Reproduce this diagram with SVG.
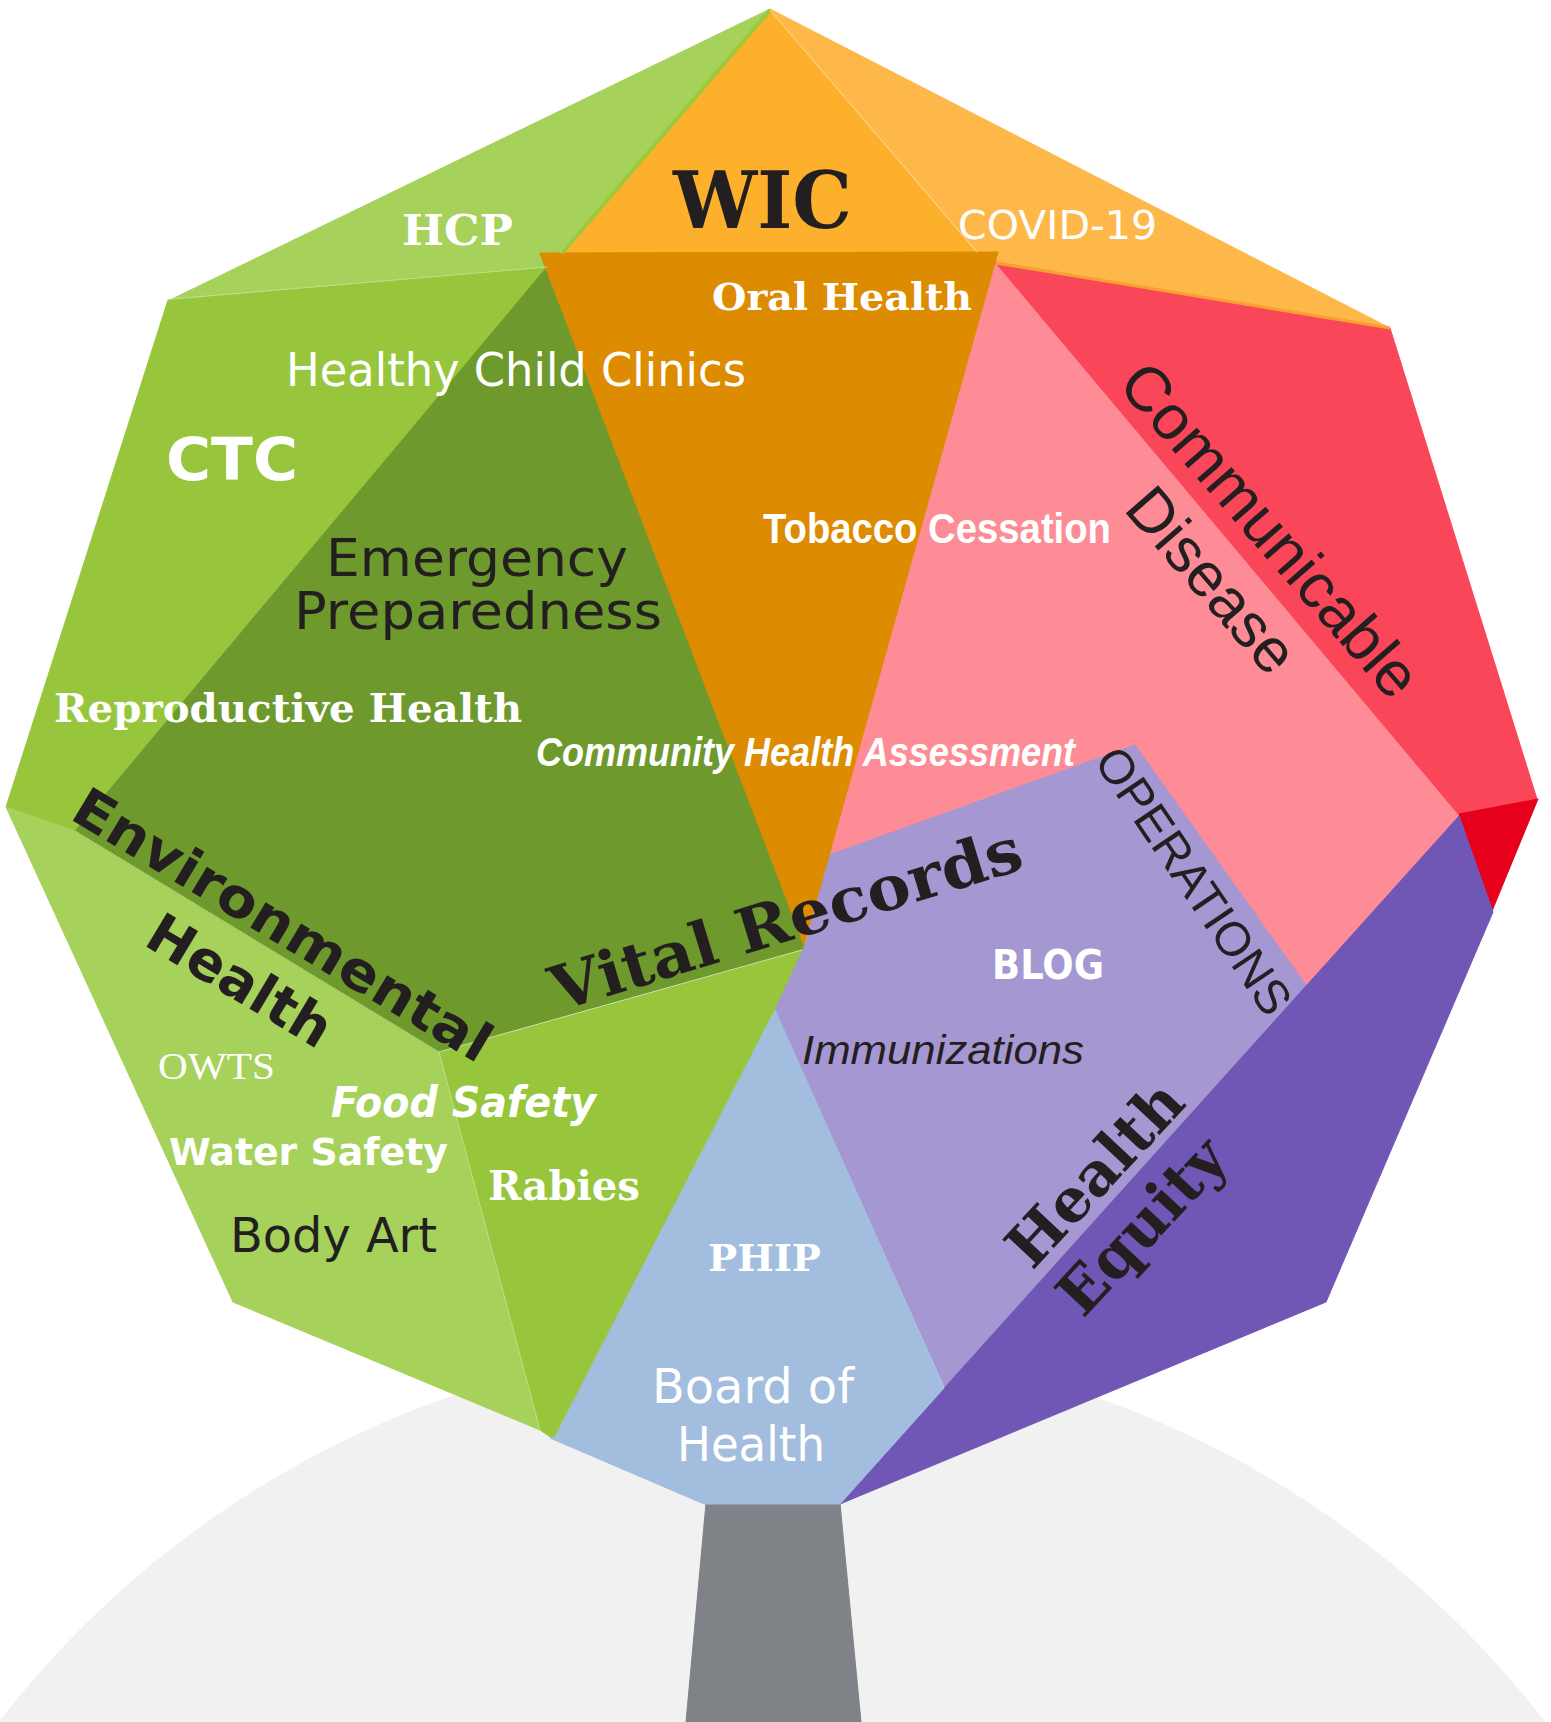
<svg xmlns="http://www.w3.org/2000/svg" width="1551" height="1722" viewBox="0 0 1551 1722">
<style>
.w{fill:#FFFFFF}
.k{fill:#231F20}
.sans{font-family:"DejaVu Sans","Liberation Sans",sans-serif}
.sansb{font-family:"DejaVu Sans","Liberation Sans",sans-serif;font-weight:bold}
.serifb{font-family:"DejaVu Serif","Liberation Serif",serif;font-weight:bold}
.arial{font-family:"Liberation Sans",Arial,sans-serif}
.times{font-family:"Liberation Serif","Times New Roman",serif}
polygon{stroke-width:1;stroke-linejoin:round}
</style>
<rect width="1551" height="1722" fill="#FFFFFF"/>
<circle id="ground" cx="772" cy="2319" r="977" fill="#F1F1F1"/>
<polygon id="trunk" points="706,1503 840,1503 861,1722 686,1722" fill="#7F8387" stroke="#7F8387"/>

<g id="hcp">
<polygon points="770,9 172,299 547,267" fill="#A6D15A" stroke="#A6D15A"/>
<text class="serifb w" x="402" y="245" font-size="42" textLength="111" lengthAdjust="spacingAndGlyphs">HCP</text>
</g>
<g id="ctc">
<polygon points="168,300 547,267 75,831 6,807" fill="#97C63D" stroke="#97C63D"/>
<text class="sansb w" x="166" y="480" font-size="58" textLength="132" lengthAdjust="spacingAndGlyphs">CTC</text>
</g>
<g id="env-health">
<polygon points="6,807 75,831 439,1052 540,1430 233,1302" fill="#A6D15A" stroke="#A6D15A"/>
<text class="times w" x="158" y="1079" font-size="38" textLength="117" lengthAdjust="spacingAndGlyphs">OWTS</text>
<text class="sansb w" x="169" y="1165" font-size="37" textLength="279" lengthAdjust="spacingAndGlyphs">Water Safety</text>
<text class="sans k" x="230" y="1252" font-size="48" textLength="207" lengthAdjust="spacingAndGlyphs">Body Art</text>
</g>
<g id="food">
<polygon points="439,1052 802,950 830,960 620,1440 555,1440 540,1430" fill="#97C63D" stroke="#97C63D"/>
<text class="serifb w" x="488" y="1200" font-size="41" textLength="152" lengthAdjust="spacingAndGlyphs">Rabies</text>
</g>
<g id="emergency">
<polygon points="547,267 75,831 439,1052 802,950 805,945 540,253" fill="#6E992D" stroke="#6E992D"/>
<text class="sans k" x="477" y="576" font-size="52" text-anchor="middle" textLength="302" lengthAdjust="spacingAndGlyphs">Emergency</text>
<text class="sans k" x="478" y="629" font-size="52" text-anchor="middle" textLength="368" lengthAdjust="spacingAndGlyphs">Preparedness</text>
</g>
<g id="wic">
<polygon points="770,9 562,253 977,253" fill="#FDB02B" stroke="#FDB02B"/>
<text class="serifb k" x="673" y="228" font-size="78" textLength="179" lengthAdjust="spacingAndGlyphs">WIC</text>
</g>
<g id="covid">
<polygon points="770,9 1390,328 995,263 998,252 977,252" fill="#FEB84A" stroke="#FEB84A"/>
<text class="sans w" x="958" y="239" font-size="39" textLength="199" lengthAdjust="spacingAndGlyphs">COVID-19</text>
</g>
<g id="disease">
<polygon points="995,262 1462,818 1306,990 1135,745 829,855" fill="#FD8C96" stroke="#FD8C96"/>
</g>
<g id="communicable">
<polygon points="995,262 1390,328 1537,799 1459,815" fill="#FA4659" stroke="#FA4659"/>
<polygon points="1459,814 1538,799 1492,911" fill="#E7001C" stroke="#E7001C"/>
</g>
<g id="operations">
<polygon points="829,855 1135,745 1308,988 946,1390 775,1010 802,952 805,945" fill="#A597D1" stroke="#A597D1"/>
<text class="sansb w" x="992" y="979" font-size="40" textLength="112" lengthAdjust="spacingAndGlyphs">BLOG</text>
<text class="arial k" x="802" y="1064" font-size="40" font-style="italic" textLength="282" lengthAdjust="spacingAndGlyphs">Immunizations</text>
</g>
<g id="health-equity">
<polygon points="1459,816 1493,912 1326,1302 840,1504" fill="#7157B5" stroke="#7157B5"/>
</g>
<g id="board">
<polygon points="775,1010 944,1388 840,1504 704,1504 550,1438 555,1437" fill="#A3BDDE" stroke="#A3BDDE"/>
<text class="serifb w" x="708" y="1271" font-size="37" textLength="113" lengthAdjust="spacingAndGlyphs">PHIP</text>
<text class="sans w" x="753" y="1403" font-size="48" text-anchor="middle" textLength="202" lengthAdjust="spacingAndGlyphs">Board of</text>
<text class="sans w" x="751" y="1461" font-size="48" text-anchor="middle" textLength="148" lengthAdjust="spacingAndGlyphs">Health</text>
</g>
<g id="oral">
<polygon points="540,253 998,252 804,945" fill="#DD8B00" stroke="#DD8B00"/>
<text class="serifb w" x="712" y="310" font-size="38" textLength="260" lengthAdjust="spacingAndGlyphs">Oral Health</text>
</g>

<g id="connectors" fill="none">
<line x1="770" y1="10" x2="562" y2="253" stroke="#9CC83C" stroke-width="4"/>
<line x1="770" y1="10" x2="977" y2="252" stroke="#FFD9A0" stroke-width="1"/>
<line x1="996" y1="263" x2="1390" y2="328" stroke="#F7A12E" stroke-width="3"/>
<line x1="172" y1="299" x2="547" y2="267" stroke="#C3E08F" stroke-width="1"/>
<line x1="75" y1="831" x2="439" y2="1052" stroke="#B5D97A" stroke-width="1"/>
<line x1="439" y1="1052" x2="802" y2="950" stroke="#D5E8B0" stroke-width="1"/>
<line x1="439" y1="1052" x2="540" y2="1430" stroke="#C3E08F" stroke-width="1"/>
</g>

<g id="labels">
<text class="sans w" x="286" y="386" font-size="46" textLength="460" lengthAdjust="spacingAndGlyphs">Healthy Child Clinics</text>
<text class="arial w" x="763" y="543" font-size="43" font-weight="bold" textLength="348" lengthAdjust="spacingAndGlyphs">Tobacco Cessation</text>
<text class="serifb w" x="54" y="722" font-size="40" textLength="468" lengthAdjust="spacingAndGlyphs">Reproductive Health</text>
<text class="arial w" x="536" y="766" font-size="40" font-weight="bold" font-style="italic" textLength="539" lengthAdjust="spacingAndGlyphs">Community Health Assessment</text>
<text class="sansb w" x="331" y="1117" font-size="43" font-style="italic" textLength="265" lengthAdjust="spacingAndGlyphs">Food Safety</text>
<text class="arial k" font-size="63" text-anchor="middle" transform="translate(1254,544) rotate(49)">Communicable</text>
<text class="arial k" font-size="62" text-anchor="middle" transform="translate(1196,594) rotate(49)">Disease</text>
<text class="arial k" font-size="48" text-anchor="middle" transform="translate(1180,890) rotate(56)">OPERATIONS</text>
<text class="serifb k" font-size="62" text-anchor="middle" textLength="490" lengthAdjust="spacingAndGlyphs" transform="translate(792,940) rotate(-17)">Vital Records</text>
<text class="sansb k" font-size="54" text-anchor="middle" textLength="478" lengthAdjust="spacingAndGlyphs" transform="translate(273,941) rotate(31)">Environmental</text>
<text class="sansb k" font-size="55" text-anchor="middle" transform="translate(230,997) rotate(31)">Health</text>
<text class="serifb k" font-size="60" text-anchor="middle" transform="translate(1110,1188) rotate(-47)">Health</text>
<text class="serifb k" font-size="60" text-anchor="middle" transform="translate(1157,1240) rotate(-47)">Equity</text>
</g>
</svg>
